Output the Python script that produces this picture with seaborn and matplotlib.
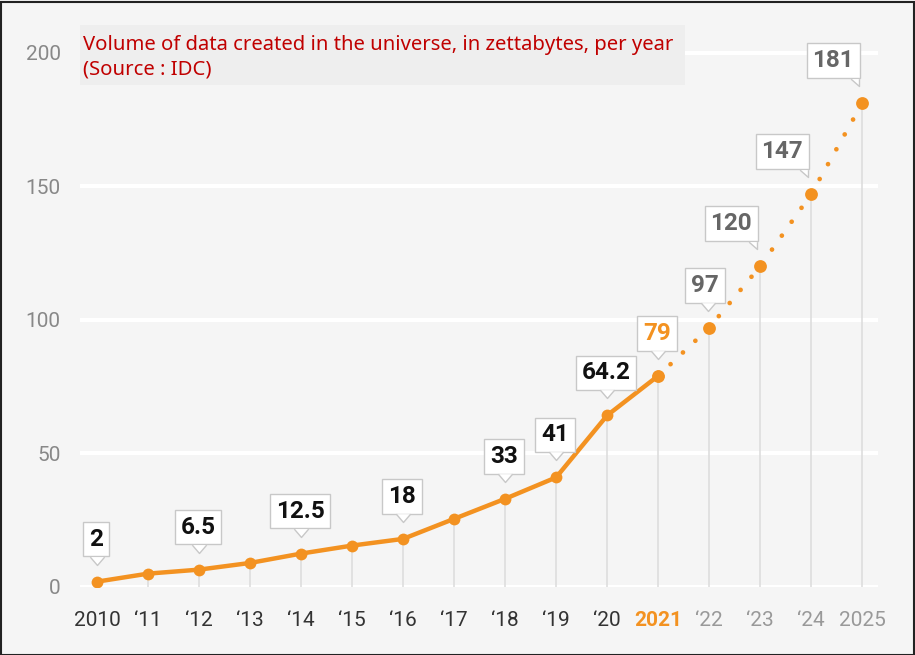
"""
Volume of data created in the universe (IDC), line chart with callout labels
"""
import numpy as np
import matplotlib.pyplot as plt
import matplotlib.transforms as mtransforms
from matplotlib.patches import Rectangle
import seaborn as sns

sns.set_theme(style='white')
plt.rcParams['font.family'] = ['Roboto', 'DejaVu Sans']

# data (zettabytes per year)
years = [2010, 2011, 2012, 2013, 2014, 2015, 2016, 2017,
         2018, 2019, 2020, 2021, 2022, 2023, 2024, 2025]
volume = [2, 5, 6.5, 9, 12.5, 15.5, 18, 25.5,
          33, 41, 64.2, 79, 97, 120, 147, 181]
tick_labels = ['2010', '\u201811', '\u201812', '\u201813', '\u201814', '\u201815',
               '\u201816', '\u201817', '\u201818', '\u201819', '\u201820', '2021',
               '\u201822', '\u201823', '\u201824', '2025']
last_actual = 2021
# years that get a callout label
labelled = [2010, 2012, 2014, 2016, 2018, 2019, 2020, 2021, 2022, 2023, 2024, 2025]
label_text = ['2', '6.5', '12.5', '18', '33', '41', '64.2', '79', '97', '120', '147', '181']

ORANGE = '#f39221'
BG = '#f5f5f5'

fig = plt.figure(figsize=(9.15, 6.55), dpi=100, facecolor=BG)
W, H = 915, 655
ax = fig.add_axes([80 / W, (H - 587) / H, (878 - 80) / W, (587 - 30.6) / H])
ax.set_facecolor(BG)

yrs = np.array(years)
vol = np.array(volume)
act = yrs <= last_actual
fc = yrs >= last_actual

# thin drop lines from each point to the axis
ax.vlines(yrs, 0, vol, color='#dedede', lw=1.2, zorder=1)

# actual values, solid
sns.lineplot(x=yrs[act], y=vol[act], ax=ax, color=ORANGE, lw=3.2,
             marker='o', markersize=8.5, markeredgewidth=0, zorder=3)
# forecast, dotted
sns.lineplot(x=yrs[fc], y=vol[fc], ax=ax, color=ORANGE, lw=3.4,
             dashes=False, zorder=3)
ax.lines[-1].set_linestyle((0, (0.01, 3.6)))
ax.lines[-1].set_dash_capstyle('round')
sns.scatterplot(x=yrs[fc], y=vol[fc], ax=ax, color=ORANGE, s=85,
                linewidth=0, zorder=4)

ax.set_xlim(2009.667, 2025.31)
ax.set_ylim(0, 208.2)
ax.set_yticks([0, 50, 100, 150, 200])
ax.set_xticks(years)
ax.set_xticklabels(tick_labels)
ax.yaxis.grid(True, color='white', lw=3)
ax.xaxis.grid(False)
for s in ax.spines.values():
    s.set_visible(False)
ax.tick_params(axis='y', length=0, pad=14, labelsize=15, labelcolor='#888888')
ax.tick_params(axis='x', length=0, pad=17, labelsize=15)
ax.set_xlabel('')
ax.set_ylabel('')
for yr, t in zip(years, ax.get_xticklabels()):
    if yr < last_actual:
        t.set_color('#333333')
    elif yr == last_actual:
        t.set_color(ORANGE)
        t.set_fontweight('bold')
    else:
        t.set_color('#999999')

# callout boxes
tail_mid = [(-6, 7), (0, 0), (6, 7)]
tail_right = [(-8, 7), (0, 0), (0, 7)]
for yr, txt in zip(labelled, label_text):
    v = vol[years.index(yr)]
    if yr < last_actual:
        col = '#111111'
    elif yr == last_actual:
        col = ORANGE
    else:
        col = '#666666'
    if yr > 2022:
        ha, dx, tail, tdx = 'right', -8, tail_right, -3
    elif yr == 2022:
        ha, dx, tail, tdx = 'center', -4, tail_mid, -1
    else:
        ha, dx, tail, tdx = 'center', -1, tail_mid, 0
    ax.annotate(txt, xy=(yr, v), xytext=(dx, 31), textcoords='offset pixels',
                ha=ha, va='bottom', fontsize=17.5, fontweight='bold', color=col,
                bbox=dict(boxstyle='square,pad=0.24', fc='white', ec='#c8c8c8', lw=1),
                zorder=5)
    tr = mtransforms.offset_copy(ax.transData, fig=fig, x=tdx, y=17, units='dots')
    ax.plot([yr], [v], transform=tr, marker=tail, markersize=12,
            mfc='white', mec='#c8c8c8', mew=1, ls='none', zorder=6)

# title box
fig.patches.append(Rectangle((80 / W, 1 - 85 / H), 605 / W, 60 / H,
                             transform=fig.transFigure, fc='#eeeeee', ec='none', zorder=0))
fig.text(83 / W, 1 - 35 / H, 'Volume of data created in the universe, in zettabytes, per year\n(Source : IDC)',
         ha='left', va='top', color='#c00000', fontsize=14.6, family=['Noto Sans', 'DejaVu Sans'],
         linespacing=1.3)

# outer frame
fig.patches.append(Rectangle((0.5 / W, 0.5 / H), 1 - 2 / W, 1 - 2 / H,
                             transform=fig.transFigure, fill=False, ec='#222222', lw=1.5))

fig.savefig('out.png', dpi=100, facecolor=BG)
